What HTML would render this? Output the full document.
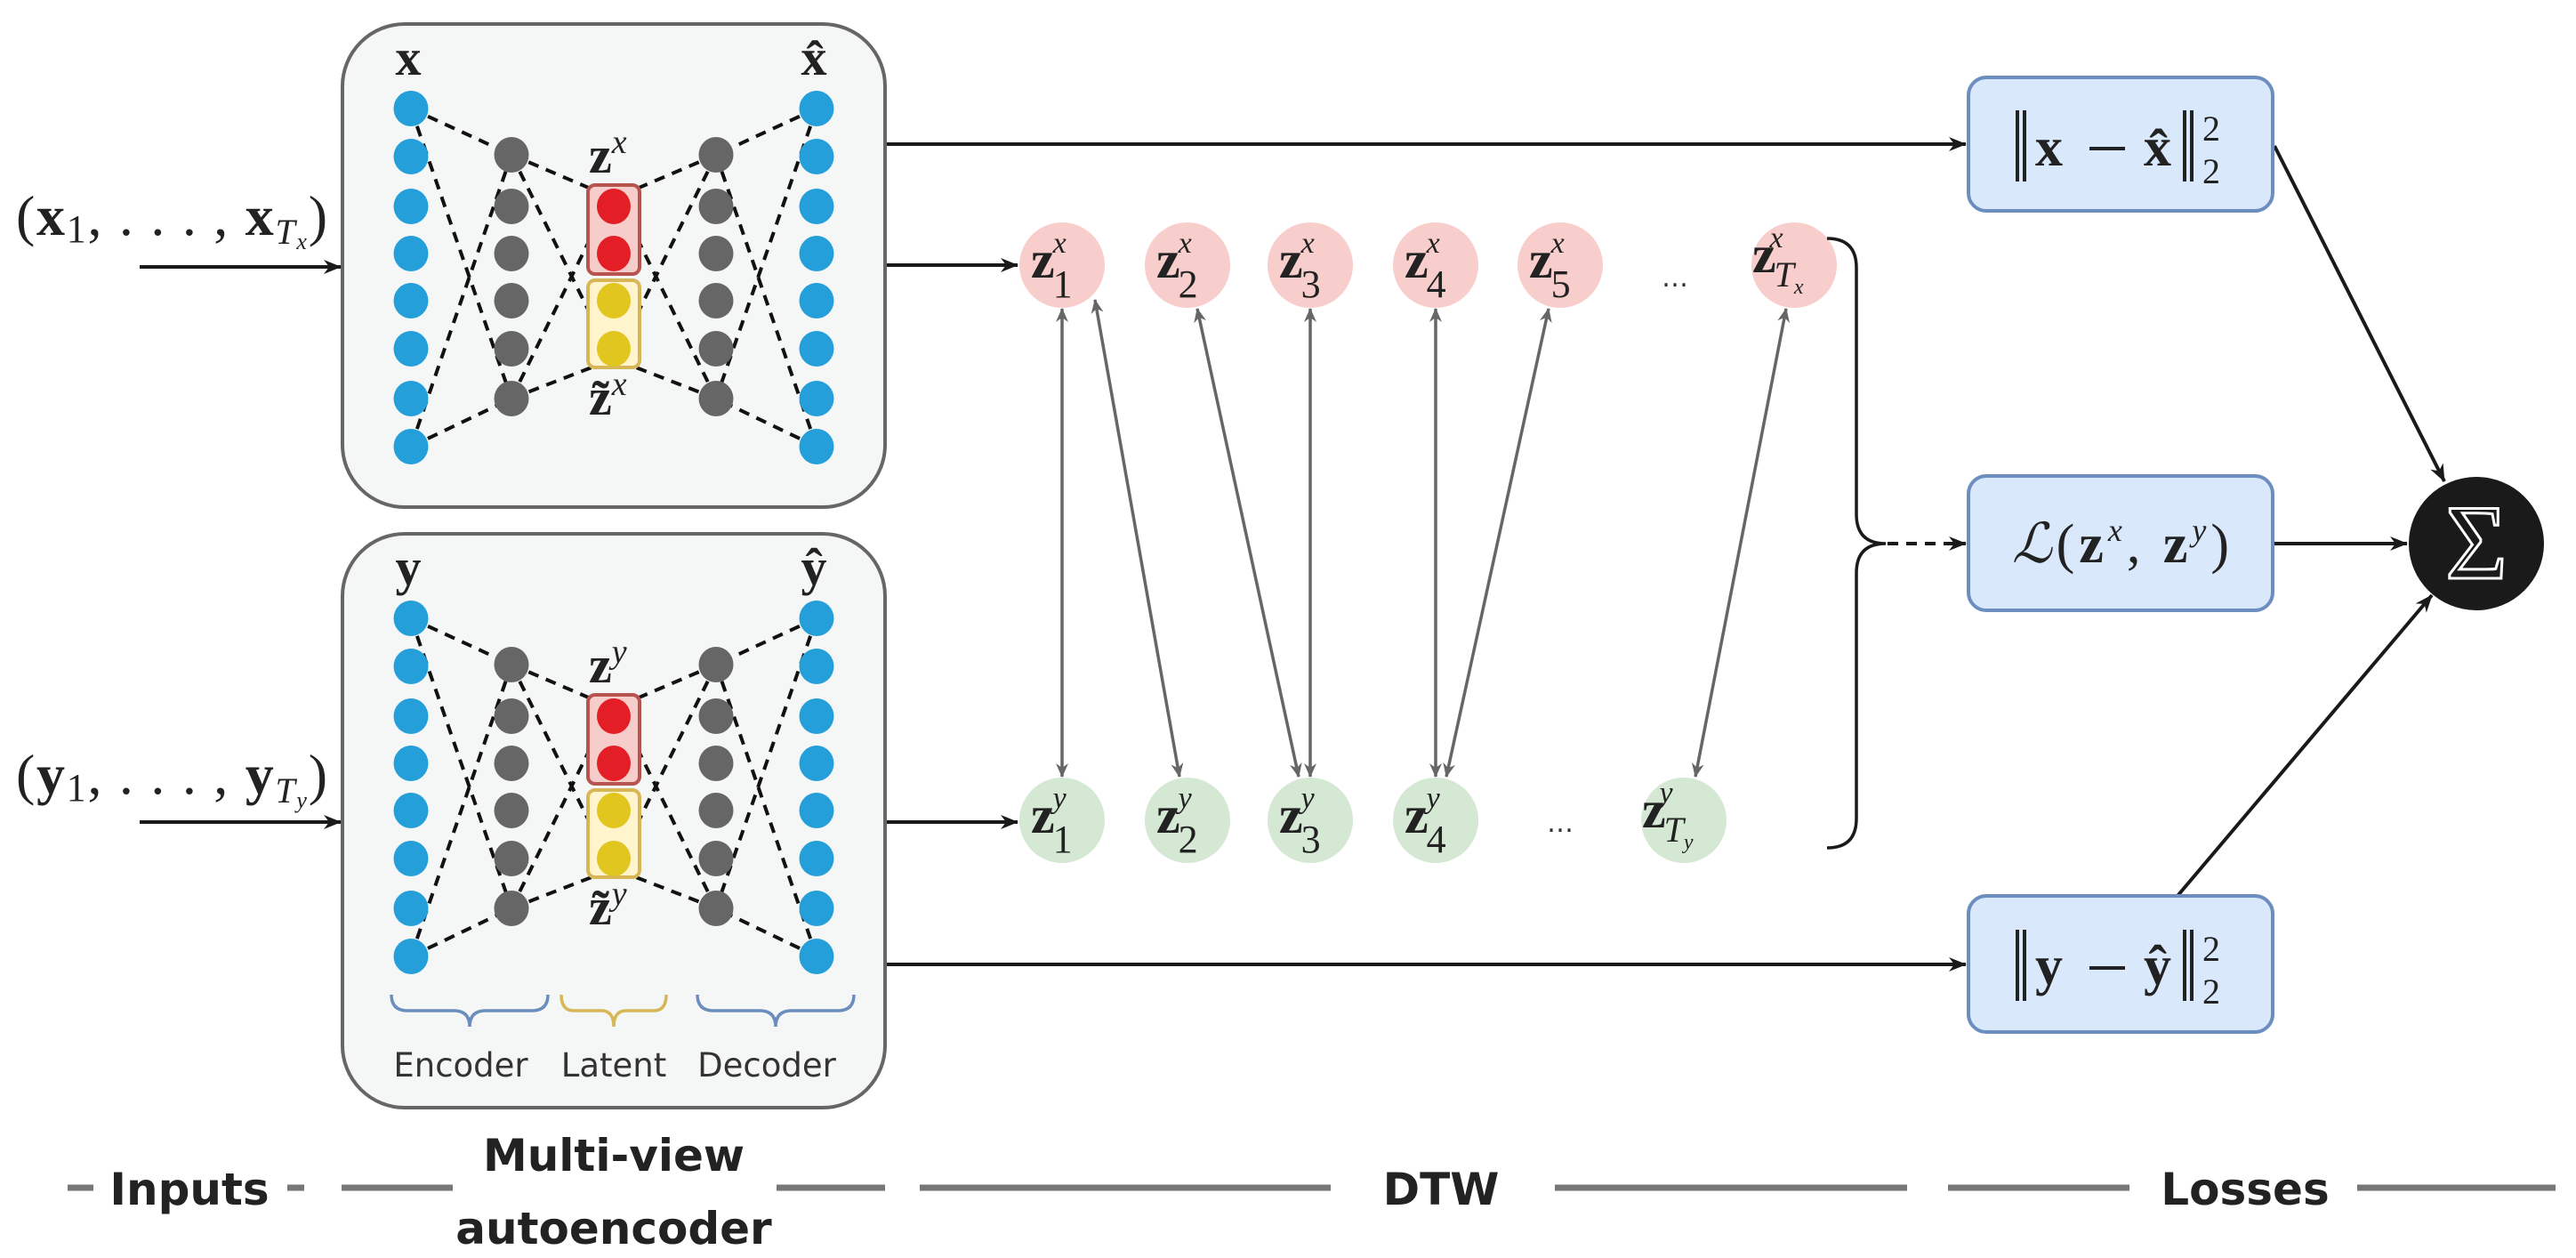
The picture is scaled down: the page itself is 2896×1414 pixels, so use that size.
<!DOCTYPE html>
<html><head><meta charset="utf-8"><style>
html,body{margin:0;padding:0;background:#fff}
svg{display:block}
.m{font-family:"Liberation Serif",serif;fill:#222}
.b{font-weight:bold}
.i{font-style:italic}
</style></head><body>
<svg width="2896" height="1414" viewBox="0 0 2896 1414" xmlns="http://www.w3.org/2000/svg">
<defs>
<marker id="ak" viewBox="0 0 20 16" refX="19" refY="8" markerWidth="20" markerHeight="16" markerUnits="userSpaceOnUse" orient="auto"><path d="M0,0 L20,8 L0,16 L6,8 Z" fill="#1a1a1a"/></marker>
<marker id="ag" viewBox="0 0 16 14" refX="15" refY="7" markerWidth="16" markerHeight="14" markerUnits="userSpaceOnUse" orient="auto-start-reverse"><path d="M0,0 L16,7 L0,14 L5,7 Z" fill="#666"/></marker>
<g id="ae">
<g stroke="#111" stroke-width="4" stroke-dasharray="12,9" fill="none">
<line x1="462" y1="122" x2="575" y2="174"/><line x1="462" y1="122" x2="575" y2="448"/>
<line x1="462" y1="502" x2="575" y2="174"/><line x1="462" y1="502" x2="575" y2="448"/>
<line x1="575" y1="174" x2="664" y2="212"/><line x1="575" y1="174" x2="677" y2="380"/>
<line x1="575" y1="448" x2="665" y2="413"/><line x1="575" y1="448" x2="675" y2="245"/>
<line x1="805" y1="174" x2="716" y2="212"/><line x1="805" y1="174" x2="703" y2="380"/>
<line x1="805" y1="448" x2="715" y2="413"/><line x1="805" y1="448" x2="705" y2="245"/>
<line x1="918" y1="122" x2="805" y2="174"/><line x1="918" y1="122" x2="805" y2="448"/>
<line x1="918" y1="502" x2="805" y2="174"/><line x1="918" y1="502" x2="805" y2="448"/>
</g>
<g fill="#259fda">
<ellipse cx="462" cy="122" rx="19.5" ry="20"/><ellipse cx="462" cy="176" rx="19.5" ry="20"/><ellipse cx="462" cy="232" rx="19.5" ry="20"/><ellipse cx="462" cy="285" rx="19.5" ry="20"/><ellipse cx="462" cy="338" rx="19.5" ry="20"/><ellipse cx="462" cy="392" rx="19.5" ry="20"/><ellipse cx="462" cy="448" rx="19.5" ry="20"/><ellipse cx="462" cy="502" rx="19.5" ry="20"/>
<ellipse cx="918" cy="122" rx="19.5" ry="20"/><ellipse cx="918" cy="176" rx="19.5" ry="20"/><ellipse cx="918" cy="232" rx="19.5" ry="20"/><ellipse cx="918" cy="285" rx="19.5" ry="20"/><ellipse cx="918" cy="338" rx="19.5" ry="20"/><ellipse cx="918" cy="392" rx="19.5" ry="20"/><ellipse cx="918" cy="448" rx="19.5" ry="20"/><ellipse cx="918" cy="502" rx="19.5" ry="20"/>
</g>
<g fill="#656665">
<ellipse cx="575" cy="174" rx="19.5" ry="20"/><ellipse cx="575" cy="232" rx="19.5" ry="20"/><ellipse cx="575" cy="285" rx="19.5" ry="20"/><ellipse cx="575" cy="338" rx="19.5" ry="20"/><ellipse cx="575" cy="392" rx="19.5" ry="20"/><ellipse cx="575" cy="448" rx="19.5" ry="20"/>
<ellipse cx="805" cy="174" rx="19.5" ry="20"/><ellipse cx="805" cy="232" rx="19.5" ry="20"/><ellipse cx="805" cy="285" rx="19.5" ry="20"/><ellipse cx="805" cy="338" rx="19.5" ry="20"/><ellipse cx="805" cy="392" rx="19.5" ry="20"/><ellipse cx="805" cy="448" rx="19.5" ry="20"/>
</g>
<rect x="661" y="208" width="58" height="100" rx="8" fill="#f7cdcc" stroke="#b85450" stroke-width="4"/>
<ellipse cx="690" cy="232" rx="19" ry="20" fill="#e31e27"/><ellipse cx="690" cy="285" rx="19" ry="20" fill="#e31e27"/>
<rect x="661" y="315" width="58" height="98" rx="8" fill="#fff4cc" stroke="#d6b656" stroke-width="4"/>
<ellipse cx="690" cy="338" rx="19" ry="20" fill="#e0c61f"/><ellipse cx="690" cy="392" rx="19" ry="20" fill="#e0c61f"/>
</g>
</defs>

<rect x="385" y="27" width="610" height="543" rx="70" fill="#f5f7f6" stroke="#666" stroke-width="4"/>
<rect x="385" y="600" width="610" height="645" rx="70" fill="#f5f7f6" stroke="#666" stroke-width="4"/>
<use href="#ae"/>
<use href="#ae" transform="translate(0,573)"/>

<g class="m b" font-size="58">
<text x="459" y="84" text-anchor="middle">x</text>
<text x="915" y="84" text-anchor="middle">x̂</text>
<text x="459" y="657" text-anchor="middle">y</text>
<text x="915" y="657" text-anchor="middle">ŷ</text>
<text x="662" y="194">z<tspan class="i" font-weight="normal" font-size="38" dy="-22">x</tspan></text>
<text x="662" y="466">z̃<tspan class="i" font-weight="normal" font-size="38" dy="-22">x</tspan></text>
<text x="662" y="767">z<tspan class="i" font-weight="normal" font-size="38" dy="-22">y</tspan></text>
<text x="662" y="1039">z̃<tspan class="i" font-weight="normal" font-size="38" dy="-22">y</tspan></text>
</g>

<g fill="none" stroke-width="3.5">
<path d="M440,1118 q0,18 18,18 h52 q18,0 18,18 q0,-18 18,-18 h52 q18,0 18,-18" stroke="#6c8ebf"/>
<path d="M631,1118 q0,18 14,18 h31 q14,0 14,18 q0,-18 14,-18 h31 q14,0 14,-18" stroke="#d6b656"/>
<path d="M784,1118 q0,18 18,18 h52 q18,0 18,18 q0,-18 18,-18 h52 q18,0 18,-18" stroke="#6c8ebf"/>
</g>
<g font-family="DejaVu Sans,sans-serif" font-size="37" fill="#333" text-anchor="middle">
<text x="518" y="1210">Encoder</text><text x="690" y="1210">Latent</text><text x="862" y="1210">Decoder</text>
</g>

<text class="m" x="18" y="264" font-size="64" textLength="350" lengthAdjust="spacing">(<tspan font-weight="bold">x</tspan><tspan font-size="44" dy="8">1</tspan><tspan dy="-8">, . . . , </tspan><tspan font-weight="bold">x</tspan><tspan class="i" font-size="40" dy="10">T</tspan><tspan class="i" font-size="26" dy="6">x</tspan><tspan dy="-16">)</tspan></text>
<text class="m" x="18" y="892" font-size="64" textLength="350" lengthAdjust="spacing">(<tspan font-weight="bold">y</tspan><tspan font-size="44" dy="8">1</tspan><tspan dy="-8">, . . . , </tspan><tspan font-weight="bold">y</tspan><tspan class="i" font-size="40" dy="10">T</tspan><tspan class="i" font-size="26" dy="6">y</tspan><tspan dy="-16">)</tspan></text>
<g stroke="#1a1a1a" stroke-width="4" fill="none" marker-end="url(#ak)">
<line x1="157" y1="300" x2="383" y2="300"/>
<line x1="157" y1="924" x2="383" y2="924"/>
<line x1="997" y1="162" x2="2210" y2="162"/>
<line x1="997" y1="298" x2="1144" y2="298"/>
<line x1="997" y1="924" x2="1144" y2="924"/>
<line x1="997" y1="1084" x2="2210" y2="1084"/>
<line x1="2557" y1="164" x2="2748" y2="541"/>
<line x1="2557" y1="611" x2="2706" y2="611"/>
<line x1="2448" y1="1007" x2="2734" y2="669"/>
<line x1="2122" y1="611" x2="2210" y2="611" stroke-dasharray="12,9"/>
</g>

<g fill="#f8cecc">
<circle cx="1194" cy="298" r="48"/><circle cx="1335" cy="298" r="48"/><circle cx="1473" cy="298" r="48"/><circle cx="1614" cy="298" r="48"/><circle cx="1754" cy="298" r="48"/><circle cx="2017" cy="298" r="48"/>
</g>
<g fill="#d5e8d4">
<circle cx="1194" cy="922" r="48"/><circle cx="1335" cy="922" r="48"/><circle cx="1473" cy="922" r="48"/><circle cx="1614" cy="922" r="48"/><circle cx="1893" cy="922" r="48"/>
</g>
<g class="m b" font-size="60">
<text x="1159" y="312">z<tspan font-weight="normal" font-size="44" dx="-2" dy="22">1</tspan><tspan class="i" font-weight="normal" font-size="34" dx="-22" dy="-50">x</tspan></text>
<text x="1300" y="312">z<tspan font-weight="normal" font-size="44" dx="-2" dy="22">2</tspan><tspan class="i" font-weight="normal" font-size="34" dx="-22" dy="-50">x</tspan></text>
<text x="1438" y="312">z<tspan font-weight="normal" font-size="44" dx="-2" dy="22">3</tspan><tspan class="i" font-weight="normal" font-size="34" dx="-22" dy="-50">x</tspan></text>
<text x="1579" y="312">z<tspan font-weight="normal" font-size="44" dx="-2" dy="22">4</tspan><tspan class="i" font-weight="normal" font-size="34" dx="-22" dy="-50">x</tspan></text>
<text x="1719" y="312">z<tspan font-weight="normal" font-size="44" dx="-2" dy="22">5</tspan><tspan class="i" font-weight="normal" font-size="34" dx="-22" dy="-50">x</tspan></text>
<text x="1970" y="306">z<tspan class="i" font-weight="normal" font-size="40" dx="-2" dy="16">T</tspan><tspan class="i" font-weight="normal" font-size="24" dy="8">x</tspan><tspan class="i" font-weight="normal" font-size="34" dx="-38" dy="-52">x</tspan></text>
<text x="1159" y="936">z<tspan font-weight="normal" font-size="44" dx="-2" dy="22">1</tspan><tspan class="i" font-weight="normal" font-size="34" dx="-22" dy="-50">y</tspan></text>
<text x="1300" y="936">z<tspan font-weight="normal" font-size="44" dx="-2" dy="22">2</tspan><tspan class="i" font-weight="normal" font-size="34" dx="-22" dy="-50">y</tspan></text>
<text x="1438" y="936">z<tspan font-weight="normal" font-size="44" dx="-2" dy="22">3</tspan><tspan class="i" font-weight="normal" font-size="34" dx="-22" dy="-50">y</tspan></text>
<text x="1579" y="936">z<tspan font-weight="normal" font-size="44" dx="-2" dy="22">4</tspan><tspan class="i" font-weight="normal" font-size="34" dx="-22" dy="-50">y</tspan></text>
<text x="1846" y="930">z<tspan class="i" font-weight="normal" font-size="40" dx="-2" dy="16">T</tspan><tspan class="i" font-weight="normal" font-size="24" dy="8">y</tspan><tspan class="i" font-weight="normal" font-size="34" dx="-38" dy="-52">y</tspan></text>
</g>
<g font-family="DejaVu Sans,sans-serif" font-size="30" fill="#333" text-anchor="middle">
<text x="1883" y="322">…</text><text x="1754" y="935">…</text>
</g>
<g stroke="#666" stroke-width="3.5" fill="none" marker-start="url(#ag)" marker-end="url(#ag)">
<line x1="1194" y1="347" x2="1194" y2="873"/>
<line x1="1231" y1="337" x2="1326" y2="873"/>
<line x1="1346" y1="347" x2="1460" y2="873"/>
<line x1="1473" y1="347" x2="1473" y2="873"/>
<line x1="1614" y1="347" x2="1614" y2="873"/>
<line x1="1741" y1="347" x2="1626" y2="873"/>
<line x1="2008" y1="347" x2="1906" y2="873"/>
</g>
<path d="M2054,268 q33,0 33,33 v277 q0,33 33,33 q-33,0 -33,33 v276 q0,33 -33,33" fill="none" stroke="#1a1a1a" stroke-width="3.5"/>

<g fill="#dae8fc" stroke="#6c8ebf" stroke-width="4">
<rect x="2213" y="87" width="342" height="150" rx="20"/>
<rect x="2213" y="535" width="342" height="151" rx="20"/>
<rect x="2213" y="1007" width="342" height="153" rx="20"/>
</g>
<g stroke="#222" stroke-width="4">
<line x1="2268" y1="124" x2="2268" y2="204"/><line x1="2276" y1="124" x2="2276" y2="204"/>
<line x1="2456" y1="124" x2="2456" y2="204"/><line x1="2464" y1="124" x2="2464" y2="204"/>
<line x1="2268" y1="1045" x2="2268" y2="1125"/><line x1="2276" y1="1045" x2="2276" y2="1125"/>
<line x1="2456" y1="1045" x2="2456" y2="1125"/><line x1="2464" y1="1045" x2="2464" y2="1125"/>
<line x1="2349" y1="167" x2="2389" y2="167"/><line x1="2349" y1="1088" x2="2389" y2="1088"/>
</g>
<g class="m" font-size="62">
<text x="2288" y="186" font-weight="bold">x</text>
<text x="2410" y="186" font-weight="bold">x̂</text>
<text x="2476" y="158" font-size="40">2</text><text x="2476" y="206" font-size="40">2</text>
<text x="2288" y="1106" font-weight="bold">y</text>
<text x="2410" y="1106" font-weight="bold">ŷ</text>
<text x="2476" y="1080" font-size="40">2</text><text x="2476" y="1128" font-size="40">2</text>
<text x="2262" y="632" textLength="244" lengthAdjust="spacing"><tspan class="i">ℒ</tspan>(<tspan font-weight="bold">z</tspan><tspan class="i" font-size="36" dy="-24">x</tspan><tspan dy="24">, </tspan><tspan font-weight="bold">z</tspan><tspan class="i" font-size="36" dy="-24">y</tspan><tspan dy="24">)</tspan></text>
</g>
<ellipse cx="2784" cy="611" rx="76" ry="75" fill="#1a1a1a"/>
<text x="2784" y="650" text-anchor="middle" font-family="Liberation Serif,serif" font-size="120" fill="none" stroke="#fff" stroke-width="3">Σ</text>

<g stroke="#777" stroke-width="7">
<line x1="76" y1="1335" x2="105" y2="1335"/><line x1="323" y1="1335" x2="342" y2="1335"/>
<line x1="384" y1="1335" x2="509" y2="1335"/><line x1="873" y1="1335" x2="995" y2="1335"/>
<line x1="1034" y1="1335" x2="1496" y2="1335"/><line x1="1748" y1="1335" x2="2144" y2="1335"/>
<line x1="2190" y1="1335" x2="2394" y2="1335"/><line x1="2650" y1="1335" x2="2873" y2="1335"/>
</g>
<g font-family="DejaVu Sans,sans-serif" font-weight="bold" font-size="50" fill="#222" text-anchor="middle">
<text x="213" y="1354">Inputs</text>
<text x="690" y="1316">Multi-view</text>
<text x="690" y="1398">autoencoder</text>
<text x="1620" y="1354">DTW</text>
<text x="2524" y="1354">Losses</text>
</g>
</svg>
</body></html>
